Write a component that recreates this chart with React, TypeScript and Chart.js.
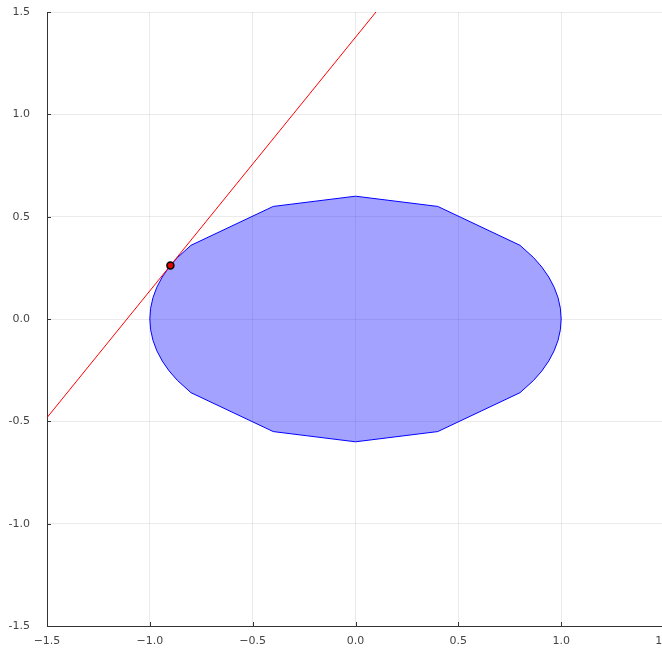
import React, { useEffect, useRef } from "react";
import { Chart, registerables } from "chart.js";

Chart.register(...registerables);

// Ellipse-like region outline (closed polygon), traced counter-clockwise from (1, 0)
const shapeX = [
  1.0, 0.9962, 0.9848, 0.9659, 0.9397, 0.9063, 0.866, 0.8,
  0.4, 0.0, -0.4, -0.8,
  -0.866, -0.9063, -0.9397, -0.9659, -0.9848, -0.9962, -1.0,
  -0.9962, -0.9848, -0.9659, -0.9397, -0.9063, -0.866, -0.8,
  -0.4, 0.0, 0.4, 0.8,
  0.866, 0.9063, 0.9397, 0.9659, 0.9848, 0.9962, 1.0,
];
const shapeY = [
  0.0, 0.0523, 0.1042, 0.1553, 0.2052, 0.2536, 0.3, 0.36,
  0.55, 0.6, 0.55, 0.36,
  0.3, 0.2536, 0.2052, 0.1553, 0.1042, 0.0523, 0.0,
  -0.0523, -0.1042, -0.1553, -0.2052, -0.2536, -0.3, -0.36,
  -0.55, -0.6, -0.55, -0.36,
  -0.3, -0.2536, -0.2052, -0.1553, -0.1042, -0.0523, 0.0,
];

// Tangent line endpoints and the touching point
const lineX = [-1.5, 0.0996];
const lineY = [-0.482, 1.5];
const pointX = [-0.9];
const pointY = [0.2615];

const xTickValues = [-1.5, -1.0, -0.5, 0.0, 0.5, 1.0, 1.5];
const xTickLabels = ["\u22121.5", "\u22121.0", "\u22120.5", "0.0", "0.5", "1.0", "1.5"];
const yTickValues = [-1.5, -1.0, -0.5, 0.0, 0.5, 1.0, 1.5];
const yTickLabels = ["-1.5", "-1.0", "-0.5", "0.0", "0.5", "1.0", "1.5"];

const FONT = "'DejaVu Sans', 'Liberation Sans', sans-serif";

const zip = (xs: number[], ys: number[]) => xs.map((x, i) => ({ x, y: ys[i] }));

const labelFor = (values: number[], labels: string[], v: number) => {
  const i = values.findIndex((t) => Math.abs(t - v) < 1e-6);
  return i >= 0 ? labels[i] : "";
};

// Keep the plot area fixed: labels may overhang the canvas edges
const noOverhang = (scale: any) => {
  scale.paddingTop = 0;
  scale.paddingBottom = 0;
  scale.paddingLeft = 0;
  scale.paddingRight = 0;
};

// Short inward tick marks along the bottom and left axes
const innerTicks = {
  id: "innerTicks",
  afterDraw(chart: any) {
    const { ctx, chartArea, scales } = chart;
    ctx.save();
    ctx.strokeStyle = "#333";
    ctx.lineWidth = 1;
    ctx.beginPath();
    xTickValues.forEach((v) => {
      const px = Math.round(scales.x.getPixelForValue(v)) + 0.5;
      ctx.moveTo(px, chartArea.bottom);
      ctx.lineTo(px, chartArea.bottom - 4);
    });
    yTickValues.forEach((v) => {
      const py = Math.round(scales.y.getPixelForValue(v)) + 0.5;
      ctx.moveTo(chartArea.left, py);
      ctx.lineTo(chartArea.left + 4, py);
    });
    ctx.stroke();
    ctx.restore();
  },
};

export default function App() {
  const canvasRef = useRef<HTMLCanvasElement | null>(null);

  useEffect(() => {
    if (!canvasRef.current) return;
    const chart = new Chart(canvasRef.current, {
      type: "scatter",
      data: {
        datasets: [
          {
            label: "point",
            data: zip(pointX, pointY),
            pointRadius: 3.5,
            pointBackgroundColor: "#e00000",
            pointBorderColor: "#000",
            pointBorderWidth: 1.5,
            showLine: false,
          },
          {
            label: "tangent",
            data: zip(lineX, lineY),
            showLine: true,
            borderColor: "#ff0000",
            borderWidth: 1,
            pointRadius: 0,
            fill: false,
          },
          {
            label: "region",
            data: zip(shapeX, shapeY),
            showLine: true,
            borderColor: "#0000ff",
            borderWidth: 1,
            backgroundColor: "rgba(0, 0, 255, 0.36)",
            pointRadius: 0,
            fill: "shape",
            tension: 0,
          } as any,
        ],
      },
      options: {
        animation: false,
        responsive: false,
        layout: { padding: { left: 0, top: 12, right: 6, bottom: 0 } },
        plugins: {
          legend: { display: false },
          tooltip: { enabled: false },
        },
        scales: {
          x: {
            type: "linear",
            min: -1.5,
            max: 1.5,
            afterBuildTicks: (scale: any) => {
              scale.ticks = xTickValues.map((value) => ({ value }));
            },
            afterFit: (scale: any) => {
              scale.height = 22;
              noOverhang(scale);
            },
            grid: { color: "rgba(0,0,0,0.08)", drawTicks: false },
            border: { color: "#333", width: 1 },
            ticks: {
              padding: 9,
              color: "#444",
              font: { family: FONT, size: 11 },
              maxRotation: 0,
              autoSkip: false,
              callback: (v: any) => labelFor(xTickValues, xTickLabels, Number(v)),
            },
          },
          y: {
            type: "linear",
            min: -1.5,
            max: 1.5,
            afterBuildTicks: (scale: any) => {
              scale.ticks = yTickValues.map((value) => ({ value }));
            },
            afterFit: (scale: any) => {
              scale.width = 47;
              noOverhang(scale);
            },
            grid: { color: "rgba(0,0,0,0.08)", drawTicks: false },
            border: { color: "#333", width: 1 },
            ticks: {
              padding: 17,
              color: "#444",
              font: { family: FONT, size: 11 },
              autoSkip: false,
              callback: (v: any) => labelFor(yTickValues, yTickLabels, Number(v)),
            },
          },
        },
      },
      plugins: [innerTicks],
    });
    return () => chart.destroy();
  }, []);

  return (
    <div
      style={{
        position: "fixed",
        left: 0,
        top: 0,
        width: 662,
        height: 648,
        overflow: "hidden",
        background: "#fff",
      }}
    >
      <canvas ref={canvasRef} width={670} height={648} style={{ display: "block" }} />
    </div>
  );
}
